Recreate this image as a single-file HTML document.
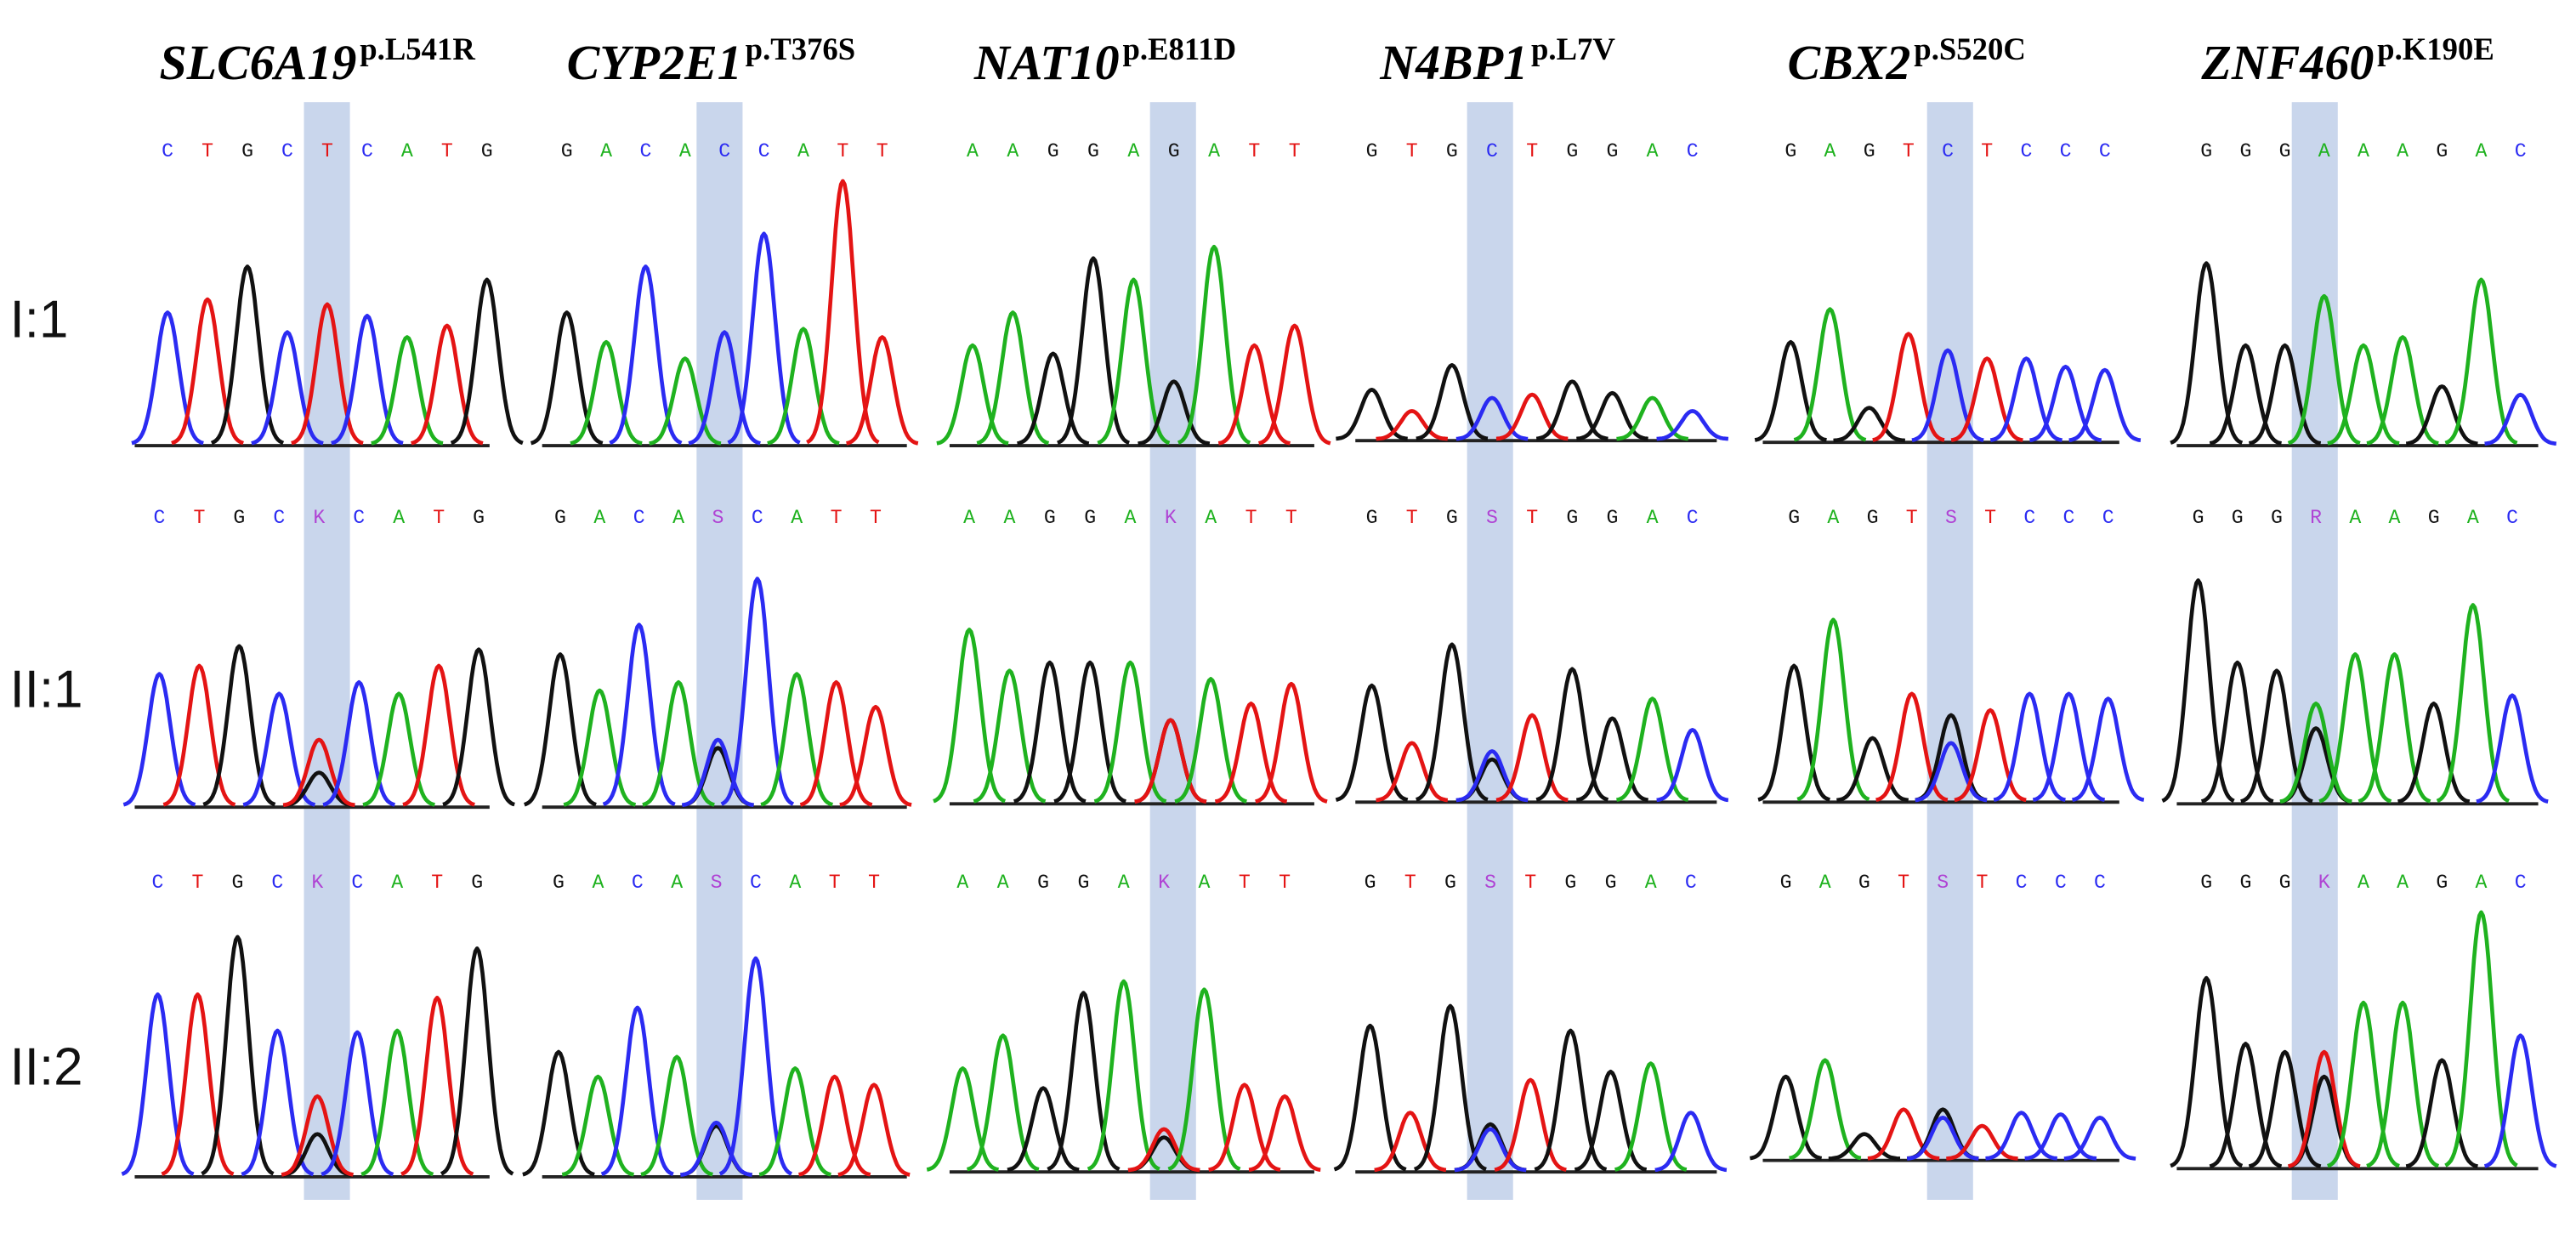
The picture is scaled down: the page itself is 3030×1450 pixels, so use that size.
<!DOCTYPE html>
<html><head><meta charset="utf-8"><style>
html,body{margin:0;padding:0;background:#fff;}
svg{display:block;}
</style></head><body>
<svg id="chart" width="3030" height="1450" viewBox="0 0 1568 750" xmlns="http://www.w3.org/2000/svg">
<rect width="1568" height="750" fill="#fff"/>
<g id="bands"></g><g id="traces"></g><g id="labels"></g>
</svg>
<script>
const genes = ["SLC6A19","CYP2E1","NAT10","N4BP1","CBX2","ZNF460"];
const mutations = ["p.L541R","p.T376S","p.E811D","p.L7V","p.S520C","p.K190E"];
const rowNames = ["I:1","II:1","II:2"];
const seqRow1 = ["CTGCTCATG","GACACCATT","AAGGAGATT","GTGCTGGAC","GAGTCTCCC","GGGAAAGAC"];
const seqRow2 = ["CTGCKCATG","GACASCATT","AAGGAKATT","GTGSTGGAC","GAGTSTCCC","GGGRAAGAC"];
const seqRow3 = ["CTGCKCATG","GACASCATT","AAGGAKATT","GTGSTGGAC","GAGTSTCCC","GGGKAAGAC"];
const heightsRow1 = [[80,88,108,68,85,78,65,72,100],[80,62,108,52,68,128,70,160,65],[60,80,55,113,100,38,120,60,72],[30,17,45,25,27,35,28,25,17],[60,80,20,65,55,50,50,45,43],[110,60,60,90,60,65,35,100,30]];
const heightsRow2 = [[80,85,97,68,40,75,68,85,95],[92,70,110,75,40,138,80,75,60],[105,80,85,85,85,50,75,60,72],[70,35,95,30,52,80,50,62,43],[82,110,38,65,35,55,65,65,62],[135,85,80,60,90,90,60,120,65]];
const heightsRow3 = [[110,110,145,88,48,87,88,108,138],[75,60,102,72,32,132,65,60,55],[62,82,50,108,115,25,110,52,45],[88,35,100,25,55,85,60,65,35],[50,60,15,30,25,20,28,27,25],[115,75,70,70,100,100,65,155,80]];
const hetIndex = [4,4,5,3,4,3];
const hetSecondaryRow2 = [20,35,50,25,52,45];
const hetSecondaryRow3 = [25,30,20,28,30,55];

const panelLeft=[82,330,578,825,1073,1325], panelRight=[298,552,800,1045,1290,1545];
const startX=[[102,345,592,835,1090,1343],[97,341,590,835,1092,1338],[96,340,586,834,1087,1343]];
const stepX=[24.3,24.0,24.5,24.4,23.9,23.9];
const baseY=[[270,270,270,267,268,270],[490,490,488,487,487,488],[715,715,712,712,705,710]];
const bandX=[185,424,700,893,1173,1395];
const colors={A:"#1fb21f",C:"#2b2bf2",G:"#111",T:"#e41414",K:"#b044d4",S:"#b044d4",R:"#b044d4"};
const hetPrimary={K:"T",S:"C",R:"A"};
const NS="http://www.w3.org/2000/svg";
function mk(t,a,p){const e=document.createElementNS(NS,t);for(const k in a)e.setAttribute(k,a[k]);p.appendChild(e);return e;}
const bands=document.getElementById('bands'),traces=document.getElementById('traces'),labels=document.getElementById('labels');
function peak(x,base,h,col,name){
  const s=6.8;let d="";
  for(let i=-20;i<=20;i++){const dx=i*s*3.2/20;const y=base-h*Math.exp(-dx*dx/(2*s*s));d+=(i==-20?"M":"L")+(x+dx).toFixed(1)+","+y.toFixed(1);}
  const p=mk('path',{d:d,fill:"none",stroke:col,"stroke-width":2.4,"stroke-linejoin":"round"},traces);
  
  
}
const seqs=[seqRow1,seqRow2,seqRow3],hts=[heightsRow1,heightsRow2,heightsRow3],sec=[null,hetSecondaryRow2,hetSecondaryRow3];
for(let p=0;p<6;p++){
  const b=mk('rect',{x:bandX[p],y:62,width:28,height:668,fill:"#c9d6ec"},bands);
  
  
  const t=mk('text',{x:panelLeft[p]+15,y:48,"font-family":"Liberation Serif, serif","font-size":30,"font-weight":"bold","font-style":"italic",fill:"#000"},labels);
  
  
  t.textContent=genes[p];
  const ts=mk('tspan',{"font-size":19,"font-style":"normal",dx:2,dy:-12},t);ts.textContent=mutations[p];
  for(let r=0;r<3;r++){
    const by=baseY[r][p];
    const ln=mk('line',{x1:panelLeft[p],x2:panelRight[p],y1:by+1,y2:by+1,stroke:"#222","stroke-width":2},traces);
    
    
    const seq=seqs[r][p];
    for(let i=0;i<seq.length;i++){
      const ch=seq[i],x=startX[r][p]+i*stepX[p];
      const lt=mk('text',{x:x,y:[95,318,540][r],"font-family":"Liberation Mono, monospace","font-size":12,"text-anchor":"middle",fill:colors[ch]},labels);
      
      
      lt.textContent=ch;
      const h=hts[r][p][i];
      if(hetPrimary[ch]){
        peak(x,by,sec[r][p],"#111",'het-secondary-peak');
        peak(x,by,h,colors[hetPrimary[ch]],'het-primary-peak');
      } else peak(x,by,h,colors[ch],'peak');
    }
  }
}
const rowY=[205,430,660];
for(let r=0;r<3;r++){
  const t=mk('text',{x:6,y:rowY[r],"font-family":"Liberation Sans, sans-serif","font-size":32,fill:"#111"},labels);
  
  
  t.textContent=rowNames[r];
}
</script>
</body></html>
